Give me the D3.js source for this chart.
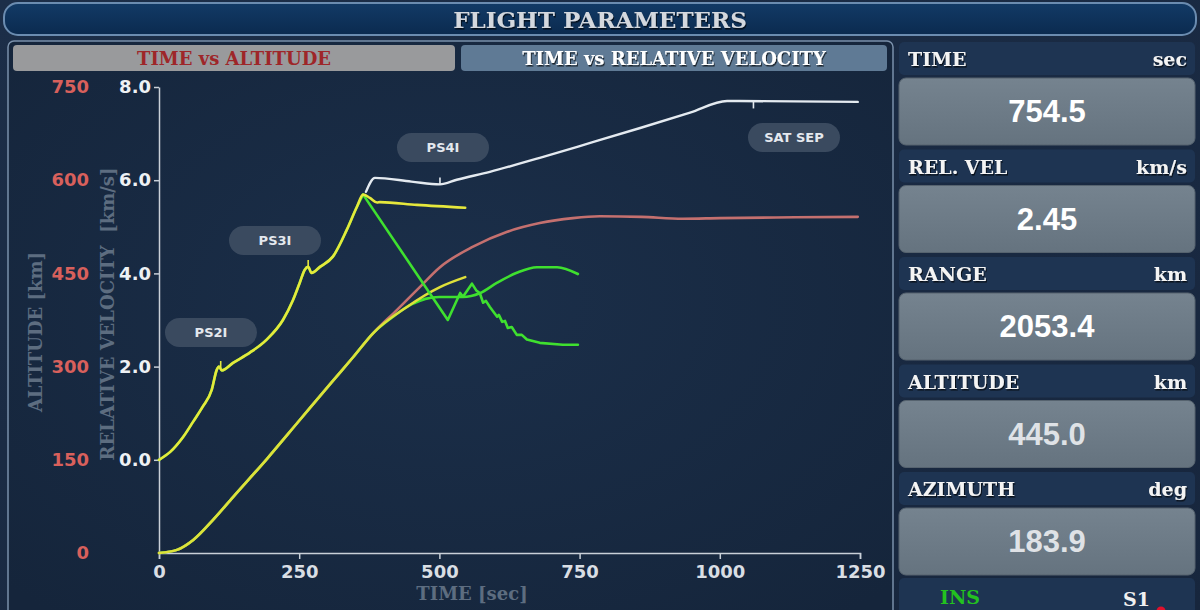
<!DOCTYPE html>
<html><head><meta charset="utf-8">
<script src="https://cdn.jsdelivr.net/npm/d3@7/dist/d3.min.js"></script>
<style>
html,body{margin:0;padding:0;background:#1a2b44;}
svg{display:block;}
</style></head>
<body>
<svg id="c" width="1200" height="610"></svg>
<script>
// ---------- DATA ----------
const timeTicks = [0, 250, 500, 750, 1000, 1250];
const velTicks = [0, 2, 4, 6, 8];
const altTicks = [0, 150, 300, 450, 600, 750];

// relative velocity ascent (shared by yellow and green), km/s
const ascentT = [0, 20, 43, 61, 78, 94, 103, 107, 112, 132, 162, 192, 221, 239, 251, 260, 266, 272, 287, 310, 335, 353, 364];
const ascentV = [0.0, 0.17, 0.49, 0.82, 1.14, 1.50, 1.93, 2.00, 1.92, 2.08, 2.30, 2.58, 3.00, 3.43, 3.80, 4.08, 4.14, 4.01, 4.14, 4.36, 4.94, 5.43, 5.69];
// yellow velocity after peak
const yellowVelT = [376, 389, 394, 460, 546];
const yellowVelV = [5.62, 5.52, 5.53, 5.47, 5.41];
// green velocity after peak
const greenVelT = [515, 537, 542, 558, 566, 572, 578, 583, 590, 603, 606, 612, 617, 622, 629, 638, 647, 656, 679, 720, 747];
const greenVelV = [3.00, 3.58, 3.50, 3.78, 3.63, 3.58, 3.37, 3.41, 3.28, 3.07, 3.11, 2.96, 2.98, 2.83, 2.85, 2.68, 2.68, 2.58, 2.51, 2.47, 2.47];
// white velocity
const whiteVelT = [369, 385, 450, 501, 531, 590, 679, 769, 858, 947, 1013, 1246];
const whiteVelV = [5.75, 6.05, 5.97, 5.91, 6.01, 6.18, 6.48, 6.80, 7.12, 7.45, 7.70, 7.68];

// altitude ascent (shared), km
const altAscT = [0, 32, 61, 96, 132, 193, 251, 310, 346, 382];
const altAscA = [0, 5, 21, 53, 90, 152, 214, 277, 315, 354];
const redAltT = [424, 465, 501, 560, 621, 679, 738, 786, 860, 934, 1000, 1100, 1246];
const redAltA = [391, 428, 460, 493, 517, 531, 539, 542, 541, 538, 539, 540, 541];
const yellowAltT = [442, 501, 546];
const yellowAltA = [396, 428, 444];
const greenAltT = [420, 450, 475, 500, 542, 572, 603, 638, 674, 710, 747];
const greenAltA = [382, 400, 409, 412, 412, 418, 435, 451, 460, 460, 449];

// events
const eventNames = ["PS2I", "PS3I", "PS4I", "SAT SEP"];
const eventTimes = [110, 266, 501, 1060];
const eventVel = [1.97, 4.14, 5.91, 7.69];

// right panel
const panelLabels = ["TIME", "REL. VEL", "RANGE", "ALTITUDE", "AZIMUTH"];
const panelUnits = ["sec", "km/s", "km", "km", "deg"];
const panelValues = ["754.5", "2.45", "2053.4", "445.0", "183.9"];

// ---------- LAYOUT ----------
const svg = d3.select("#c");
const serif = "'DejaVu Serif', serif";
const sans = "'DejaVu Sans', sans-serif";
const defs = svg.append("defs");

const bg = defs.append("linearGradient").attr("id","bg").attr("x1",0).attr("y1",0).attr("x2",1).attr("y2",1);
bg.append("stop").attr("offset","0").attr("stop-color","#1c2e48");
bg.append("stop").attr("offset","1").attr("stop-color","#17263d");
const tg = defs.append("linearGradient").attr("id","tg").attr("x1",0).attr("y1",0).attr("x2",0).attr("y2",1);
tg.append("stop").attr("offset","0").attr("stop-color","#123a66");
tg.append("stop").attr("offset","1").attr("stop-color","#0b2a4f");
const pg = defs.append("radialGradient").attr("id","pg").attr("cx","0.5").attr("cy","0.45").attr("r","0.7");
pg.append("stop").attr("offset","0").attr("stop-color","#1b2f4a");
pg.append("stop").attr("offset","1").attr("stop-color","#15253b");
const vg = defs.append("linearGradient").attr("id","vg").attr("x1",0).attr("y1",0).attr("x2",0).attr("y2",1);
vg.append("stop").attr("offset","0").attr("stop-color","#75838f");
vg.append("stop").attr("offset","1").attr("stop-color","#65737f");
const sh = defs.append("filter").attr("id","sh").attr("x","-10%").attr("y","-30%").attr("width","120%").attr("height","160%");
sh.append("feDropShadow").attr("dx",1).attr("dy",1.5).attr("stdDeviation",0.6).attr("flood-color","#000").attr("flood-opacity",0.7);

svg.append("rect").attr("width",1200).attr("height",610).attr("fill","url(#bg)");

// title bar
svg.append("rect").attr("x",4).attr("y",3).attr("width",1192).attr("height",32).attr("rx",14)
  .attr("fill","url(#tg)").attr("stroke","#6b8cb0").attr("stroke-width",2);
svg.append("text").attr("x",600).attr("y",28).attr("text-anchor","middle")
  .attr("font-family",serif).attr("font-weight","bold").attr("font-size",23)
  .attr("fill","#d4d8de").attr("filter","url(#sh)").text("FLIGHT PARAMETERS");

// left panel
svg.append("rect").attr("x",8).attr("y",41).attr("width",885).attr("height",580).attr("rx",6)
  .attr("fill","url(#pg)").attr("stroke","#7a90aa").attr("stroke-width",1.5);
svg.append("rect").attr("x",13).attr("y",45).attr("width",442).attr("height",26).attr("rx",4).attr("fill","#999a9c");
svg.append("text").attr("x",234).attr("y",65).attr("text-anchor","middle")
  .attr("font-family",serif).attr("font-weight","bold").attr("font-size",18)
  .attr("fill","#9e2629").text("TIME vs ALTITUDE");
svg.append("rect").attr("x",461).attr("y",45).attr("width",426).attr("height",26).attr("rx",4).attr("fill","#5f7a95");
svg.append("text").attr("x",674).attr("y",65).attr("text-anchor","middle")
  .attr("font-family",serif).attr("font-weight","bold").attr("font-size",18)
  .attr("fill","#ffffff").attr("filter","url(#sh)").text("TIME vs RELATIVE VELOCITY");

// ---------- SCALES ----------
const x = d3.scaleLinear().domain([0,1250]).range([159,860]);
const yVel = d3.scaleLinear().domain([-2,8]).range([553,87]);
const yAlt = d3.scaleLinear().domain([0,750]).range([553,87]);

// axes
const xAxis = svg.append("g").attr("transform","translate(0,553)")
  .call(d3.axisBottom(x).tickValues(timeTicks).tickFormat(d3.format("d")).tickSize(6).tickSizeOuter(6));
xAxis.selectAll("text").attr("y",25).attr("dy",0)
  .attr("font-family",sans).attr("font-weight","bold").attr("font-size",18).attr("fill","#d9dee4");
xAxis.selectAll("line,path").attr("stroke","#c9d0d8").attr("stroke-width",1.5);

const vAxis = svg.append("g").attr("transform","translate(159,0)")
  .call(d3.axisLeft(yVel).tickValues(velTicks).tickFormat(d3.format(".1f")).tickSize(5).tickPadding(3).tickSizeOuter(0));
vAxis.selectAll("text").attr("font-family",sans).attr("font-weight","bold").attr("font-size",18).attr("fill","#eef1f4");
vAxis.selectAll("line,path").attr("stroke","#c9d0d8").attr("stroke-width",1.5);

const aAxis = svg.append("g").attr("transform","translate(92,0)")
  .call(d3.axisLeft(yAlt).tickValues(altTicks).tickSize(0).tickPadding(3));
aAxis.select(".domain").remove();
aAxis.selectAll("text").attr("font-family",sans).attr("font-weight","bold").attr("font-size",18).attr("fill","#d8605c");

// axis titles
svg.append("text").attr("transform","translate(42,332) rotate(-90)").attr("text-anchor","middle")
  .attr("font-family",serif).attr("font-weight","bold").attr("font-size",18).attr("fill","#5d6d80")
  .text("ALTITUDE [km]");
svg.append("text").attr("transform","translate(114,314) rotate(-90)").attr("text-anchor","middle")
  .attr("font-family",serif).attr("font-weight","bold").attr("font-size",18).attr("fill","#5d6d80")
  .attr("xml:space","preserve").text("RELATIVE VELOCITY  [km/s]");
svg.append("text").attr("x",472).attr("y",600).attr("text-anchor","middle")
  .attr("font-family",serif).attr("font-weight","bold").attr("font-size",18).attr("fill","#5d6d80")
  .text("TIME [sec]");

// ---------- LINES ----------
const zip = (ts, vs) => ts.map((t,i)=>({t, v: vs[i]}));
const lineV = d3.line().x(d=>x(d.t)).y(d=>yVel(d.v)).curve(d3.curveMonotoneX);
const lineA = d3.line().x(d=>x(d.t)).y(d=>yAlt(d.v)).curve(d3.curveMonotoneX);
const lineVs = d3.line().x(d=>x(d.t)).y(d=>yVel(d.v));

const ascent = zip(ascentT, ascentV);
const altAsc = zip(altAscT, altAscA);

function draw(gen, data, color, w){
  svg.append("path").datum(data).attr("d",gen).attr("fill","none")
    .attr("stroke",color).attr("stroke-width",w||2.6).attr("stroke-linejoin","round").attr("stroke-linecap","round");
}
draw(lineA, altAsc.concat(zip(redAltT, redAltA)), "#c4706f");
draw(lineA, altAsc.concat(zip(greenAltT, greenAltA)), "#3fe02f");
draw(lineA, altAsc.concat(zip(yellowAltT, yellowAltA)), "#dfe03a");
draw(lineV, ascent, "#3fe02f");
draw(lineVs, [ascent[ascent.length-1]].concat(zip(greenVelT, greenVelV)), "#3fe02f");
draw(lineV, ascent.concat(zip(yellowVelT, yellowVelV)), "#e6e83c");
draw(lineV, zip(whiteVelT, whiteVelV), "#e4eaf0", 2.4);

// event markers
const evDir = [-1,-1,-1,1];
eventTimes.forEach((t,i)=>{
  const px = x(t), py = yVel(eventVel[i]);
  svg.append("line").attr("x1",px).attr("x2",px).attr("y1",py).attr("y2",py+evDir[i]*7)
    .attr("stroke", i<2 ? "#e6e83c" : "#e4eaf0").attr("stroke-width",1.6);
});

// event labels (bubble positions)
const bubbleCX = [211, 275, 443, 794];
const bubbleCY = [332, 240, 147, 137];
eventNames.forEach((n,i)=>{
  svg.append("rect").attr("x",bubbleCX[i]-46).attr("y",bubbleCY[i]-14).attr("width",92).attr("height",29)
    .attr("rx",14.5).attr("fill","#3c4c61").attr("opacity",0.95);
  svg.append("text").attr("x",bubbleCX[i]).attr("y",bubbleCY[i]+5).attr("text-anchor","middle")
    .attr("font-family",sans).attr("font-weight","bold").attr("font-size",13).attr("fill","#e4e8ee").text(n);
});

// ---------- RIGHT PANEL ----------
panelLabels.forEach((lab,i)=>{
  const hy = 42 + i*107.5;
  svg.append("rect").attr("x",899).attr("y",hy).attr("width",296).attr("height",33).attr("rx",5).attr("fill","#1e3452");
  svg.append("text").attr("x",908).attr("y",hy+24).attr("font-family",serif).attr("font-weight","bold")
    .attr("font-size",19).attr("fill","#f4f4f4").attr("filter","url(#sh)").text(lab);
  svg.append("text").attr("x",1187).attr("y",hy+24).attr("text-anchor","end").attr("font-family",serif).attr("font-weight","bold")
    .attr("font-size",19).attr("fill","#f4f4f4").attr("filter","url(#sh)").text(panelUnits[i]);
  const by = hy + 36;
  svg.append("rect").attr("x",899).attr("y",by).attr("width",296).attr("height",67).attr("rx",7)
    .attr("fill","url(#vg)").attr("stroke","#56636f").attr("stroke-width",1);
  svg.append("text").attr("x",1047).attr("y",by+44).attr("text-anchor","middle")
    .attr("font-family","'Liberation Sans', Arial, sans-serif").attr("font-weight","bold").attr("font-size",31)
    .attr("fill", i>=3 ? "#dfe2e6" : "#ffffff").text(panelValues[i]);
});
svg.append("rect").attr("x",899).attr("y",578).attr("width",296).attr("height",40).attr("rx",5).attr("fill","#1e3452");
svg.append("text").attr("x",940).attr("y",604).attr("font-family",serif).attr("font-weight","bold")
  .attr("font-size",19).attr("fill","#23c21f").text("INS");
svg.append("text").attr("x",1123).attr("y",606).attr("font-family",serif).attr("font-weight","bold")
  .attr("font-size",19).attr("fill","#f0f0f0").text("S1");
svg.append("circle").attr("cx",1161).attr("cy",611).attr("r",4.5).attr("fill","#e0102c");
</script>
</body></html>
